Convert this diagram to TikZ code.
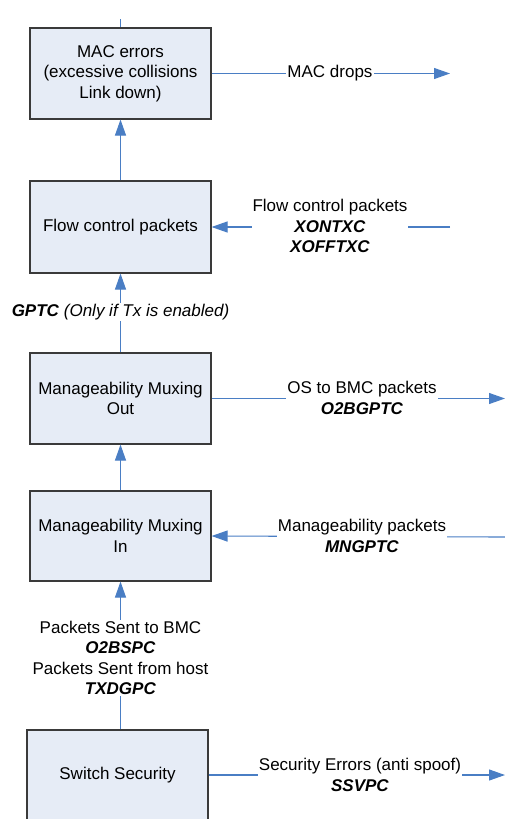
\documentclass[tikz,border=0pt]{standalone}
\usepackage{fontspec}
\setmainfont{Liberation Sans}
\usetikzlibrary{arrows.meta}
\definecolor{lineblue}{HTML}{4A7EC4}
\definecolor{boxfill}{HTML}{E6ECF6}
\definecolor{boxborder}{HTML}{3A3A3A}
\newcommand{\diagfont}{\fontsize{17}{20.5}\selectfont}
\newcommand{\bi}[1]{\textbf{\textit{#1}}}
\begin{document}
\begin{tikzpicture}[x=1pt,y=-1pt,
  box/.style={draw=boxborder, fill=boxfill, line width=1.1pt, minimum width=181pt,
              align=center, inner sep=0pt, font=\diagfont},
  conn/.style={draw=lineblue, line width=1.1pt},
  arr/.style={conn, -{Triangle[length=16pt,width=11pt]}},
  lbl/.style={fill=white, inner sep=1pt, align=center, font=\diagfont}]
\useasboundingbox (0,0) rectangle (505,819);
\clip (0,0) rectangle (505,819);

% boxes
\node[box, minimum height=91pt] (mac) at (120.5,73.5) {MAC errors\\(excessive collisions\\Link down)};
\node[box, minimum height=92pt] (fc)  at (120.5,227) {Flow control packets};
\node[box, minimum height=91pt] (mo)  at (120.5,398.5) {Manageability Muxing\\Out};
\node[box, minimum height=90pt] (mi)  at (120.5,536) {Manageability Muxing\\In};
\node[box, minimum height=90pt] (ss)  at (117.5,775) {Switch Security};

% free ends
\coordinate (top)   at (120.5,19);
\coordinate (macR)  at (450,73.5);
\coordinate (fcR)   at (450,227);
\coordinate (moR)   at (505,398.5);
\coordinate (miR)   at (505,537);
\coordinate (ssR)   at (505,775);

% connectors
\draw[conn] (top) -- (mac.north);
\draw[arr] (fc.north) -- (mac.south);
\draw[arr] (mo.north) -- (fc.south);
\draw[arr] (mi.north) -- (mo.south);
\draw[arr] (mi.south |- ss.north) -- (mi.south);
\draw[arr] (mac.east) -- (macR);
\draw[arr] (fcR) -- (fc.east);
\draw[arr] (mo.east) -- (moR);
\draw[arr] (miR) -- (mi.east);
\draw[arr] (ss.east) -- (ssR);

% labels
\node[lbl] (lmac) at (330,73) {MAC drops};
\node[lbl] (lfc)  at (330,226) {Flow control packets\\\bi{XONTXC}\\\bi{XOFFTXC}};
\node[lbl] (lgp)  at (120.5,312) {\bi{GPTC} \textit{(Only if Tx is enabled)}};
\node[lbl] (lmo)  at (362,398) {OS to BMC packets\\\bi{O2BGPTC}};
\node[lbl] (lmi)  at (362,536) {Manageability packets\\\bi{MNGPTC}};
\node[lbl] (lpk)  at (120.5,658) {Packets Sent to BMC\\\bi{O2BSPC}\\Packets Sent from host\\\bi{TXDGPC}};
\node[lbl] (lss)  at (360,775) {Security Errors (anti spoof)\\\bi{SSVPC}};
\end{tikzpicture}
\end{document}
